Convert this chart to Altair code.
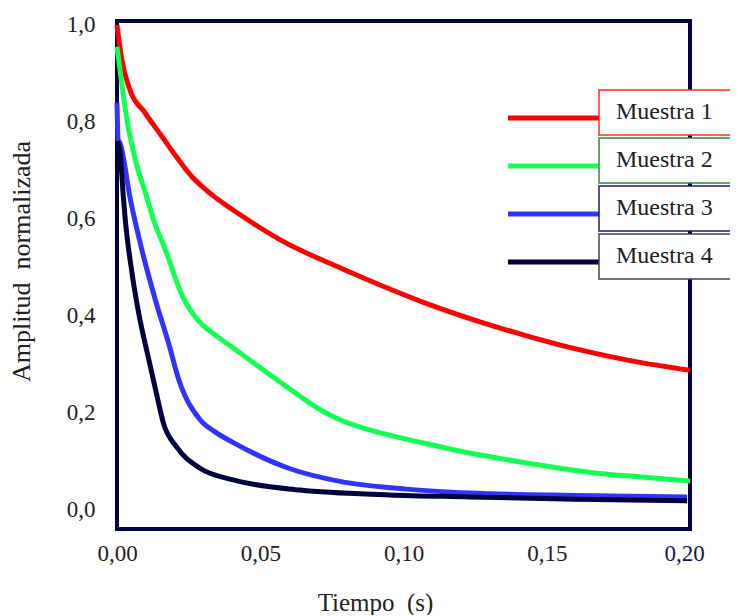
import altair as alt
import pandas as pd

# ---- data ----
series_names = ["Muestra 1", "Muestra 2", "Muestra 3", "Muestra 4"]
series_colors = ["#ff0000", "#14ff55", "#3333ff", "#00003d"]
box_colors = ["#ff2a2a", "#2e8b3e", "#1c1c6e", "#444444"]

m1_t = [0, 0.0017, 0.0041, 0.0099, 0.0157, 0.0215, 0.0262, 0.0297, 0.0447, 0.057, 0.078, 0.0918, 0.1093, 0.1267, 0.1442, 0.1616, 0.1791, 0.2]
m1_v = [1.0, 0.928, 0.873, 0.818, 0.77, 0.722, 0.687, 0.667, 0.602, 0.557, 0.499, 0.464, 0.423, 0.388, 0.357, 0.33, 0.308, 0.288]

m2_t = [0, 0.0012, 0.0035, 0.0064, 0.0099, 0.0128, 0.0169, 0.0231, 0.0285, 0.0345, 0.0401, 0.0569, 0.072, 0.0778, 0.087, 0.107, 0.12, 0.143, 0.166, 0.183, 0.2]
m2_v = [0.955, 0.90, 0.804, 0.722, 0.654, 0.598, 0.536, 0.438, 0.39, 0.36, 0.336, 0.264, 0.203, 0.186, 0.167, 0.138, 0.121, 0.097, 0.077, 0.068, 0.06]

m3_t = [0, 0.0004, 0.001, 0.0047, 0.0087, 0.0134, 0.018, 0.0216, 0.029, 0.0345, 0.0406, 0.0604, 0.0778, 0.1011, 0.1232, 0.16, 0.199]
m3_v = [0.84, 0.763, 0.757, 0.639, 0.536, 0.433, 0.344, 0.268, 0.186, 0.16, 0.139, 0.085, 0.059, 0.043, 0.035, 0.03, 0.027]

m4_t = [0, 0.001, 0.0023, 0.0029, 0.0052, 0.0076, 0.0111, 0.014, 0.0162, 0.0208, 0.029, 0.0406, 0.0639, 0.095, 0.123, 0.16, 0.199]
m4_v = [0.76, 0.74, 0.639, 0.598, 0.49, 0.405, 0.31, 0.234, 0.179, 0.13, 0.086, 0.062, 0.041, 0.031, 0.027, 0.022, 0.019]

x_ticks = [0, 0.05, 0.10, 0.15, 0.20]
y_ticks = [0, 0.2, 0.4, 0.6, 0.8, 1.0]

# ---- build tables ----
rows = []
for name, ts, vs in zip(series_names, [m1_t, m2_t, m3_t, m4_t], [m1_v, m2_v, m3_v, m4_v]):
    for i, (t, v) in enumerate(zip(ts, vs)):
        rows.append({"serie": name, "t": t, "v": v, "i": i})
df = pd.DataFrame(rows)

W, H = 573, 508
FONT = "Liberation Serif"

color_scale = alt.Scale(domain=series_names, range=series_colors)

leg = pd.DataFrame({
    "serie": series_names,
    "box": box_colors,
})
leg["ly"] = [97 + k * 48 for k in range(len(series_names))]
leg["by1"] = leg["ly"] - 28
leg["by2"] = leg["ly"] + 17
leg["ty"] = leg["ly"] - 6

frame = alt.Chart(alt.Data(values=[{"a": 1}])).mark_rect(
    fillOpacity=0, stroke="#000040", strokeWidth=4
).encode(x=alt.value(0), x2=alt.value(W), y=alt.value(0), y2=alt.value(H))

lines = alt.Chart(df).mark_line(strokeWidth=5, interpolate="monotone").encode(
    x=alt.X("t:Q",
            scale=alt.Scale(domain=[0, 0.2], nice=False, zero=False),
            axis=alt.Axis(values=x_ticks, title="Tiempo\u00a0\u00a0(s)",
                          labelExpr="replace(format(datum.value, '.2f'), '.', ',')",
                          labelFlush=False, labelOverlap=False,
                          labelPadding=24, labelBaseline="middle",
                          labelColor=alt.condition("datum.value >= 0.2", alt.value("#14145a"), alt.value("#222222")),
                          labelOffset=alt.condition("datum.value >= 0.2", alt.value(-6), alt.value(0)),
                          titleX=258, titleY=73, titleBaseline="middle", titleFontSize=25)),
    y=alt.Y("v:Q",
            scale=alt.Scale(domain=[-0.0392, 1.0082], nice=False, zero=False),
            axis=alt.Axis(values=y_ticks, title="Amplitud\u00a0\u00a0normalizada",
                          labelExpr="replace(format(datum.value, '.1f'), '.', ',')",
                          labelOverlap=False, labelPadding=22,
                          titleX=-96, titleY=240, titleBaseline="middle", titleFontSize=26)),
    color=alt.Color("serie:N", scale=color_scale, legend=None),
    order="i:Q",
    detail="serie:N",
)

leg_lines = alt.Chart(leg).mark_rule(strokeWidth=5).encode(
    x=alt.value(391), x2=alt.value(482),
    y=alt.Y("ly:Q", scale=None),
    color=alt.Color("serie:N", scale=color_scale, legend=None),
)

leg_boxes = alt.Chart(leg).mark_rect(fill="white", strokeWidth=1.5).encode(
    x=alt.value(482), x2=alt.value(640),
    y=alt.Y("by1:Q", scale=None), y2="by2:Q",
    stroke=alt.Stroke("box:N", scale=None),
)

leg_text = alt.Chart(leg).mark_text(
    align="left", baseline="middle", font=FONT, fontSize=24, color="#222222"
).encode(
    x=alt.value(499),
    y=alt.Y("ty:Q", scale=None),
    text="serie:N",
)

chart = alt.layer(frame, lines, leg_lines, leg_boxes, leg_text).properties(
    width=W, height=H,
    autosize=alt.AutoSizeParams(type="none"),
    padding={"left": 109, "top": 13, "right": 40, "bottom": 86},
).configure_view(stroke=None).configure_axis(
    grid=False, ticks=False, domain=False,
    labelFont=FONT, labelFontSize=23, labelColor="#222222",
    titleFont=FONT, titleFontSize=25, titleFontWeight="normal", titleColor="#222222",
)

chart.save("out.html", embed_options={"renderer": "svg", "actions": False})
